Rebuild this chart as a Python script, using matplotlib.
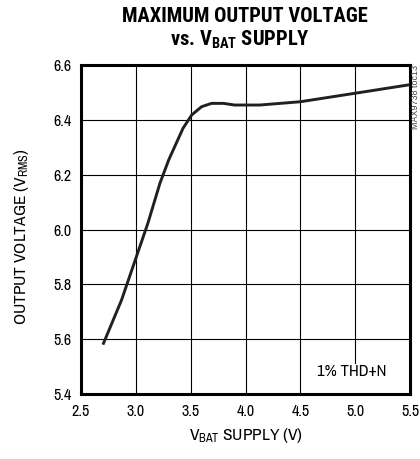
import matplotlib
matplotlib.use("Agg")
import matplotlib.pyplot as plt
from matplotlib import font_manager
from matplotlib.patches import Rectangle


def pick(prefs, weight=400):
    fonts = font_manager.fontManager.ttflist
    for p in prefs:
        if any(f.name == p and (weight == 400 or f.weight >= weight) for f in fonts):
            return p
    return "DejaVu Sans"


FONT = pick(["Liberation Sans Narrow", "Archivo Narrow", "Roboto Condensed", "Barlow Condensed"])
TFONT = pick(["Roboto Condensed", "Liberation Sans Narrow", "Barlow Condensed", "Asap Condensed"], 700)

plt.rcParams.update({
    "font.family": FONT,
    "mathtext.fontset": "custom",
    "mathtext.rm": FONT,
    "mathtext.it": FONT,
    "mathtext.bf": TFONT + ":black",
})

# curve
vbat = [2.70, 2.87, 3.00, 3.11, 3.22, 3.30, 3.43, 3.51, 3.60, 3.69, 3.80, 3.90, 4.13, 4.50, 5.00, 5.48, 5.50]
vout = [5.58, 5.743, 5.895, 6.023, 6.169, 6.254, 6.369, 6.418, 6.448, 6.46, 6.46, 6.454, 6.454, 6.466, 6.497, 6.527, 6.528]

xticks = [2.5, 3.0, 3.5, 4.0, 4.5, 5.0, 5.5]
yticks = [5.4, 5.6, 5.8, 6.0, 6.2, 6.4, 6.6]

fig = plt.figure(figsize=(4.2, 4.59), dpi=100)
ax = fig.add_axes([81 / 420, 1 - 394 / 459, 329 / 420, 329 / 459])

ax.plot(vbat, vout, color="#231f20", lw=2.1, solid_capstyle="butt", zorder=3)
ax.set_xlim(2.5, 5.5)
ax.set_ylim(5.4, 6.6)
ax.set_xticks(xticks)
ax.set_xticklabels([f"{t:.1f}" for t in xticks])
ax.set_yticks(yticks)
ax.set_yticklabels([f"{t:.1f}" for t in yticks])
ax.grid(True, color="black", lw=0.8)
ax.tick_params(length=0, labelsize=11.5, pad=7)
for s in ax.spines.values():
    s.set_linewidth(2.2)

ax.set_xlabel(r"V$_{\mathrm{BAT}}$ SUPPLY (V)", fontsize=12.5, labelpad=5)
ax.set_ylabel(r"OUTPUT VOLTAGE (V$_{\mathrm{RMS}}$)", fontsize=12.5)
ax.yaxis.set_label_coords(-0.152, 0.477)

fig.text(245 / 420, 1 - 16 / 459, "MAXIMUM OUTPUT VOLTAGE", ha="center", va="center",
         fontsize=14.8, fontweight="black", family=TFONT)
fig.text(240 / 420, 1 - 40 / 459, r"vs. V$_{\mathbf{BAT}}$ SUPPLY", ha="center", va="center",
         fontsize=14.8, fontweight="black", family=TFONT)

# white gap in the grid behind the note
ax.add_patch(Rectangle((4.9, 5.4), 0.2, 0.11, facecolor="white", edgecolor="none", zorder=2))
ax.text(4.968, 5.482, "1% THD+N", ha="center", va="center", fontsize=12, zorder=4)

fig.text(416 / 420, 1 - 65 / 459, "MAX9738 toc13", rotation=90, ha="center", va="top",
         fontsize=6.5, color="#444444", family="Liberation Sans")

fig.savefig("out.png", dpi=100)
